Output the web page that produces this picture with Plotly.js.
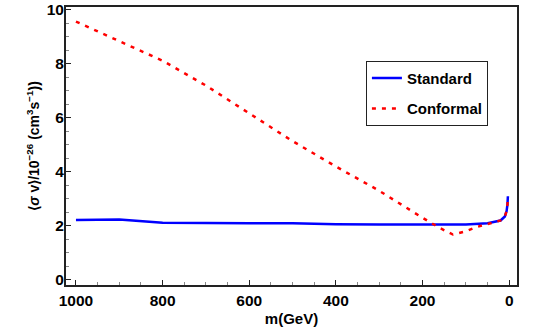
<!DOCTYPE html>
<html>
<head>
<meta charset="utf-8">
<script src="https://cdn.plot.ly/plotly-3.0.1.min.js"></script>
<style>
  html, body { margin: 0; padding: 0; background: #fff; }
  #chart { width: 540px; height: 334px; }
</style>
</head>
<body>
<div id="chart"></div>
<script>
// ── Data ──────────────────────────────────────────────────────
const massStandard = [1000, 900, 800, 700, 600, 500, 400, 300, 200, 150, 100, 50, 30, 20, 10, 6, 4, 3];
const sigmaStandard = [2.22, 2.24, 2.12, 2.1, 2.1, 2.1, 2.06, 2.05, 2.04, 2.03, 2.05, 2.1, 2.15, 2.2, 2.35, 2.55, 2.8, 3.1];

const massConformal = [1000, 900, 800, 700, 600, 500, 400, 300, 200, 160, 130, 100, 75, 50, 30, 20, 10, 6, 4, 3];
const sigmaConformal = [9.57, 8.86, 8.12, 7.2, 6.18, 5.14, 4.2, 3.3, 2.3, 1.92, 1.68, 1.8, 1.96, 2.07, 2.15, 2.2, 2.35, 2.55, 2.8, 3.05];

const xTicks = [1000, 800, 600, 400, 200, 0];
const yTicks = [0, 2, 4, 6, 8, 10];

const FONT = "Liberation Sans, Arial, Helvetica, sans-serif";
const FRAME = "#222";

const traces = [
  {
    name: "<b>Standard</b>", legendgroup: "std",
    x: massStandard, y: sigmaStandard,
    type: "scatter", mode: "lines",
    line: { color: "#0000ff", width: 2.5 },
  },
  {
    name: "<b>Conformal</b>", legendgroup: "conf",
    x: massConformal, y: sigmaConformal,
    type: "scatter", mode: "lines",
    line: { color: "#ff0000", width: 2.5, dash: "4px,6px" },
  },
];

const layout = {
  width: 540, height: 334,
  paper_bgcolor: "#fff", plot_bgcolor: "#fff",
  margin: { t: 7, r: 23, b: 49, l: 66 },
  font: { family: FONT, size: 15, color: "#000" },
  showlegend: true,
  legend: {
    x: 0.665, y: 0.807, xanchor: "left", yanchor: "top",
    bordercolor: FRAME, borderwidth: 1, bgcolor: "#fff",
    font: { family: FONT, size: 15, color: "#000" },
    itemwidth: 30, tracegroupgap: 8,
  },
  xaxis: {
    range: [1023, -18],
    tickvals: xTicks, ticktext: xTicks.map(v => `<b>${v}</b>`),
    ticks: "inside", ticklen: 5, tickwidth: 1, tickcolor: FRAME,
    minor: { dtick: 50, ticks: "inside", ticklen: 3, tickcolor: "#888" },
    showline: true, linecolor: FRAME, linewidth: 2, mirror: true,
    showgrid: false, zeroline: false,
    tickfont: { size: 15.5 },
    title: { text: "<b>m(GeV)</b>", font: { size: 15 }, standoff: 6 },
  },
  yaxis: {
    range: [-0.19, 10.11],
    tickvals: yTicks, ticktext: yTicks.map(v => `<b>${v}</b>`),
    ticks: "inside", ticklen: 5, tickwidth: 1, tickcolor: FRAME,
    minor: { dtick: 0.5, ticks: "inside", ticklen: 3, tickcolor: "#888" },
    showline: true, linecolor: FRAME, linewidth: 2, mirror: true,
    showgrid: false, zeroline: false,
    tickfont: { size: 15.5 }, ticklabelstandoff: -3,
    title: {
      text: "<b>⟨<i>σ</i> v⟩/10<sup>−26</sup> (cm<sup>3</sup>s<sup>−1</sup>))</b>",
      font: { size: 14 }, standoff: 4,
    },
  },
};

Plotly.newPlot("chart", traces, layout, { staticPlot: true, displayModeBar: false });
</script>
</body>
</html>
